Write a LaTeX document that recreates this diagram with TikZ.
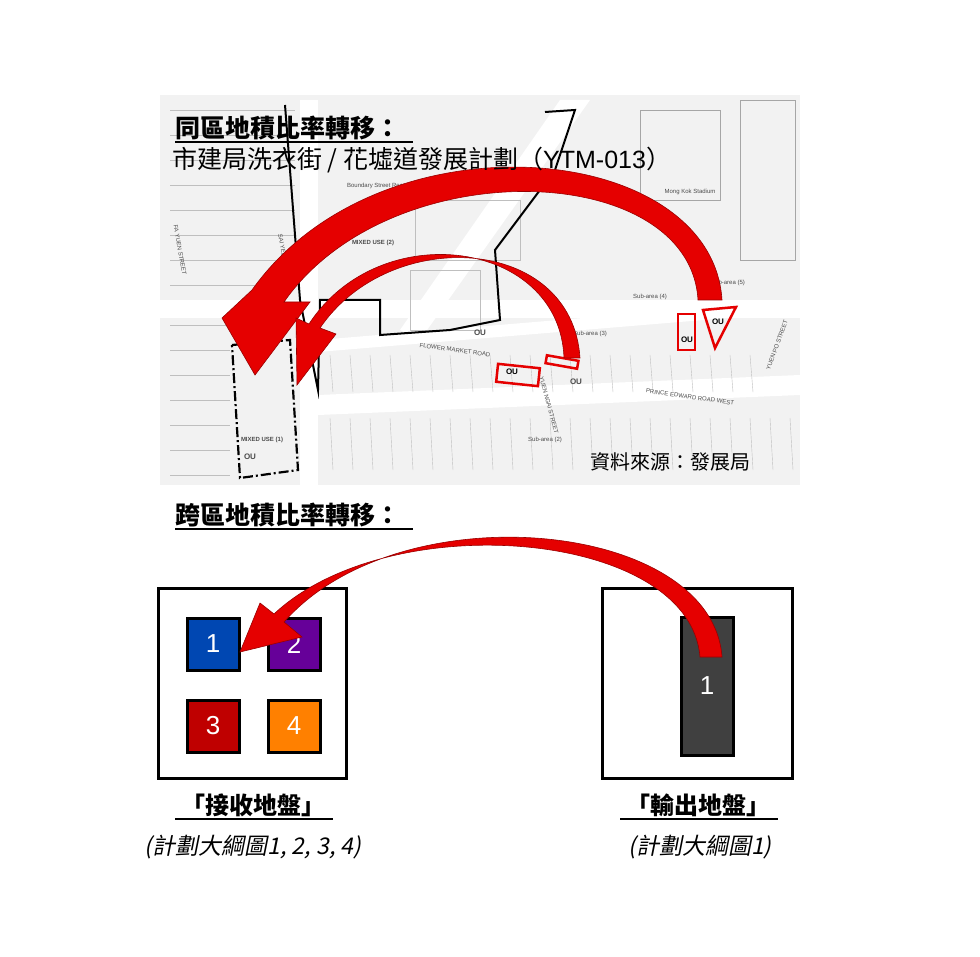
\documentclass[tikz,border=0pt]{standalone}
\usepackage{fontspec}
\setmainfont{Liberation Sans}
\newfontfamily\cjk{Noto Sans CJK TC}
\newfontfamily\cjkit[FakeSlant=0.2]{Noto Sans CJK TC}
\begin{document}
\begin{tikzpicture}[x=1pt,y=-1pt,
  maptxt/.style={font=\fontsize{6}{7}\selectfont,text=black!70,inner sep=1pt},
  rbox/.style={draw=red!90!black,line width=2.5pt},
  site/.style={draw=black,line width=3pt},
  sq/.style={draw=black,line width=3pt,minimum size=52pt,inner sep=0pt,text=white,font=\fontsize{26}{28}\selectfont},
  arr/.style={fill=red!90!black,draw=red!60!black,line width=0.6pt},
  ttl/.style={anchor=west,font=\cjk\bfseries\fontsize{25}{28}\selectfont,inner sep=0pt},
  lab/.style={font=\cjk\bfseries\fontsize{24}{26}\selectfont,inner sep=0pt},
  sub/.style={font=\cjkit\fontsize{23}{26}\selectfont,inner sep=0pt}]
\useasboundingbox (0,0) rectangle (980,957);
\fill[white] (0,0) rectangle (980,957);
% ---- map ----
\fill[black!5] (160,95) rectangle (800,485);
\fill[white] (300,100) rectangle (318,485);
\fill[white] (160,300) rectangle (800,318);
\fill[white] (318,395) -- (800,375) -- (800,395) -- (318,415) -- cycle;
\fill[white] (318,340) -- (800,300) -- (800,312) -- (318,352) -- cycle;
\fill[white] (400,330) -- (560,100) -- (590,100) -- (420,340) -- cycle;
\foreach \x in {330,350,...,750}{\draw[black!25,line width=0.4pt] (\x,355) -- (\x+3,392);}
\foreach \x in {330,350,...,790}{\draw[black!25,line width=0.4pt] (\x,418) -- (\x+3,470);}
\foreach \y in {110,135,...,300}{\draw[black!25,line width=0.4pt] (170,\y) -- (295,\y);}
\foreach \y in {325,350,...,480}{\draw[black!25,line width=0.4pt] (170,\y) -- (230,\y);}
\draw[black!35] (640,110) rectangle (720,200);
\draw[black!35] (740,100) rectangle (795,260);
\draw[black!25] (410,270) rectangle (480,330);
\draw[black!25] (415,200) rectangle (520,260);
\draw[black,line width=2pt] (285,105) -- (300,300) -- (318,390) -- (320,300) -- (380,300) -- (380,335)
  -- (450,330) -- (500,320) -- (495,250) -- (510,230) -- (555,170) -- (575,110) -- (545,112);
\draw[black,line width=2.2pt,dash pattern=on 10pt off 3pt on 2pt off 3pt] (232,345) -- (290,340) -- (298,470) -- (240,478) -- cycle;
\node[maptxt,rotate=-80] (fy) at (180,250) {FA YUEN STREET};
\node[maptxt,rotate=-80] (sy) at (283,250) {SAI YEE ST};
\node[maptxt] (mu2) at (373,243) {\textbf{MIXED USE (2)}};
\node[maptxt] (mu1) at (262,440) {\textbf{MIXED USE (1)}};
\node[maptxt] (bs) at (395,186) {Boundary Street Recreation Ground};
\node[maptxt] (mk) at (690,192) {Mong Kok Stadium};
\node[maptxt,rotate=-8] (fm) at (455,350) {FLOWER MARKET ROAD};
\node[maptxt,rotate=-8] (pe) at (690,397) {PRINCE EDWARD ROAD WEST};
\node[maptxt,rotate=-75] (yn) at (549,405) {YUEN NGAI STREET};
\node[maptxt,rotate=70] (yp) at (777,345) {YUEN PO STREET};
\node[maptxt] (s4) at (650,297) {Sub-area (4)};
\node[maptxt] (s5) at (728,283) {Sub-area (5)};
\node[maptxt] (s3) at (590,334) {Sub-area (3)};
\node[maptxt] (s2) at (545,440) {Sub-area (2)};
\node[maptxt,font=\fontsize{8}{9}\selectfont\bfseries] (ou1) at (480,333) {OU};
\node[maptxt,font=\fontsize{8}{9}\selectfont\bfseries] (ou2) at (576,382) {OU};
\node[maptxt,font=\fontsize{8}{9}\selectfont\bfseries] (ou3) at (250,457) {OU};
% red outlines
\draw[rbox,rotate around={-6:(518,375)}] (497,366) rectangle (539,384);
\draw[rbox,rotate around={-10:(562,362)}] (546,358) rectangle (578,366);
\draw[rbox] (678,314) rectangle (695,350);
\draw[rbox] (703,310) -- (736,307) -- (715,348) -- cycle;
\node[font=\bfseries\fontsize{8}{9}\selectfont] (ou4) at (512,372) {OU};
\node[font=\bfseries\fontsize{8}{9}\selectfont] (ou5) at (687,340) {OU};
\node[font=\bfseries\fontsize{8}{9}\selectfont] (ou6) at (718,322) {OU};
% map arrows
\path[arr] (722,300) .. controls (712,140) and (380,110) .. (252,290) -- (222,318) -- (255,375) -- (310,302) -- (284,302) .. controls (390,150) and (690,160) .. (698,300) -- cycle;
\path[arr] (580,358) .. controls (572,235) and (390,225) .. (320,328) -- (336,334) -- (297,385) -- (296,318) -- (309,324) .. controls (380,215) and (560,240) .. (564,358) -- cycle;
% titles
\node[ttl] (t1) at (175,128) {同區地積比率轉移：};
\draw[line width=1.5pt] (175,142) -- (413,142);
\node[anchor=west,font=\cjk\fontsize{25}{28}\selectfont,inner sep=0pt] (t2) at (172,160) {市建局洗衣街 / 花墟道發展計劃（{\fontspec{Liberation Sans}YTM-013}）};
\node[anchor=west,font=\cjk\fontsize{20}{22}\selectfont,inner sep=0pt] (src) at (590,462) {資料來源：發展局};
\node[ttl] (t3) at (175,515) {跨區地積比率轉移：};
\draw[line width=1.5pt] (175,529) -- (413,529);
% ---- bottom ----
\draw[site] (158,588) rectangle (346,778);
\draw[site] (602,588) rectangle (792,778);
\node[sq,fill=blue!60!cyan!70!black] (b1) at (213,644) {1};
\node[sq,fill=violet!80!blue] (b2) at (294,644) {2};
\node[sq,fill=red!75!black] (b3) at (213,726) {3};
\node[sq,fill=orange] (b4) at (294,726) {4};
\node[draw=black,line width=3pt,fill=black!75,minimum width=52pt,minimum height=138pt,inner sep=0pt,text=white,font=\fontsize{26}{28}\selectfont] (e1) at (707,686) {1};
\path[arr] (722,657) .. controls (712,520) and (400,490) .. (284,622) -- (302,637) -- (240,652) -- (260,603) -- (274,614) .. controls (390,505) and (690,530) .. (700,657) -- cycle;
\node[lab] (r) at (253,805) {「接收地盤」};
\draw[line width=1.5pt] (175,819) -- (333,819);
\node[sub] (rs) at (253,847) {(計劃大綱圖1, 2, 3, 4)};
\node[lab] (o) at (698,805) {「輸出地盤」};
\draw[line width=1.5pt] (620,819) -- (778,819);
\node[sub] (os) at (700,847) {(計劃大綱圖1)};
\end{tikzpicture}
\end{document}
